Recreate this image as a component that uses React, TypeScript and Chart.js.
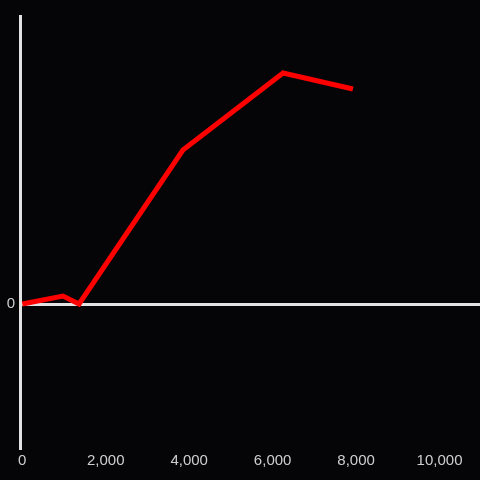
import React, { useEffect, useRef } from "react";
import { Chart, registerables } from "chart.js";

Chart.register(...registerables);

const xValues = [0, 975, 1360, 3850, 6250, 7925];
const yValues = [0, 80, 0, 1540, 2310, 2150];
const xTicks = [0, 2000, 4000, 6000, 8000, 10000];
const yTicks = [0];

const BG = "#050407";
const AXIS = "#e2e2e2";
const LABEL = "#cfcfcf";

export default function App() {
  const ref = useRef<HTMLCanvasElement | null>(null);
  useEffect(() => {
    document.body.style.margin = "0";
    const ctx = ref.current!;
    const chart = new Chart(ctx, {
      type: "line",
      data: {
        datasets: [
          {
            data: xValues.map((x, i) => ({ x, y: yValues[i] })),
            borderColor: "#ff0000",
            borderWidth: 5,
            pointRadius: 0,
            tension: 0,
            fill: false,
          },
        ],
      },
      options: {
        animation: false,
        responsive: false,
        layout: { padding: { top: 16, right: 0, left: 0, bottom: 0 } },
        plugins: { legend: { display: false }, tooltip: { enabled: false } },
        scales: {
          x: {
            type: "linear",
            min: -55,
            max: 10970,
            afterBuildTicks: (s: any) => {
              s.ticks = xTicks.map((v) => ({ value: v }));
            },
            afterFit: (s: any) => {
              s.height = 32;
            },
            grid: { display: false, drawTicks: false },
            border: { display: false },
            ticks: {
              color: LABEL,
              padding: 4,
              maxRotation: 0,
              font: { family: "'Liberation Sans', Arial, sans-serif", size: 15 },
            },
          },
          y: {
            type: "linear",
            min: -1440,
            max: 2880,
            afterBuildTicks: (s: any) => {
              s.ticks = yTicks.map((v) => ({ value: v }));
            },
            afterFit: (s: any) => {
              s.width = 20;
            },
            grid: {
              drawTicks: false,
              color: AXIS,
              lineWidth: 3,
            },
            border: { display: true, color: AXIS, width: 3 },
            ticks: {
              color: LABEL,
              padding: 5,
              font: { family: "'Liberation Sans', Arial, sans-serif", size: 15 },
            },
          },
        },
      },
    } as any);
    return () => chart.destroy();
  }, []);
  return (
    <div
      style={{
        position: "fixed",
        left: 0,
        top: 0,
        width: 480,
        height: 480,
        background: BG,
      }}
    >
      <canvas ref={ref} width={480} height={480} />
    </div>
  );
}
